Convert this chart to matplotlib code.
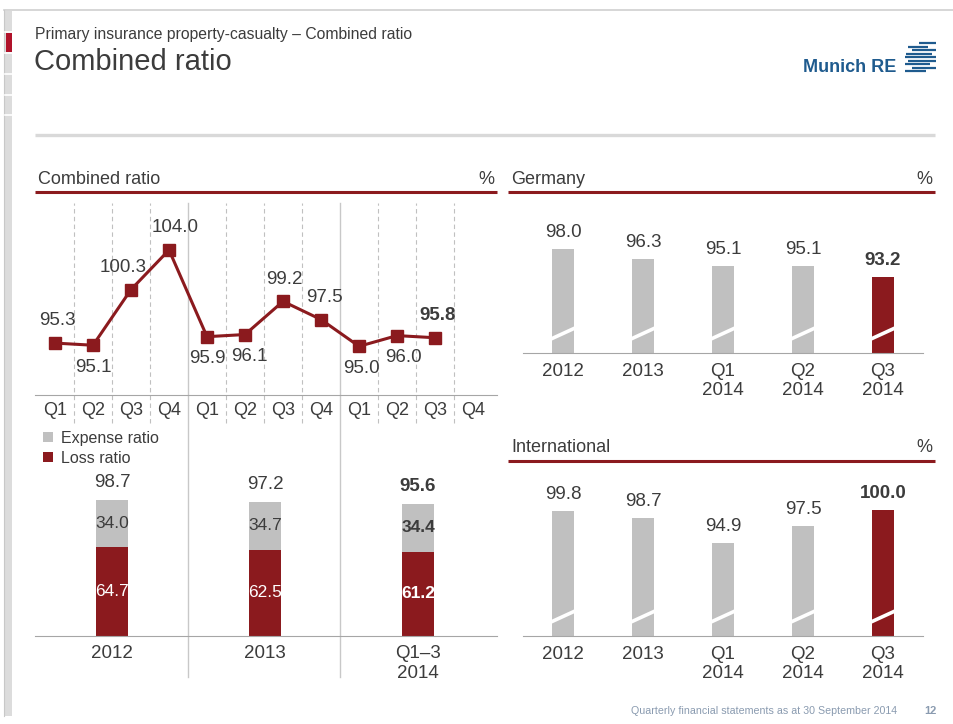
import numpy as np
import matplotlib
matplotlib.use('Agg')
import matplotlib.pyplot as plt

plt.rcParams['font.family'] = ['Liberation Sans', 'DejaVu Sans']

# ---- data ----
quarters = ['Q1', 'Q2', 'Q3', 'Q4'] * 3
combined_q = [95.3, 95.1, 100.3, 104.0, 95.9, 96.1, 99.2, 97.5, 95.0, 96.0, 95.8]
# label placement: +1 above, -1 below, with small x shift in px
label_side = [1, -1, 1, 1, -1, -1, 1, 1, -1, -1, 1]
label_dx = [2, 0, -8, 6, 0, 4, 1, 3, 2, 6, 3]

years = ['2012', '2013', 'Q1–3\n2014']
expense_ratio = [34.0, 34.7, 34.4]
loss_ratio = [64.7, 62.5, 61.2]
total_ratio = [98.7, 97.2, 95.6]

seg_labels = ['2012', '2013', 'Q1\n2014', 'Q2\n2014', 'Q3\n2014']
germany = [98.0, 96.3, 95.1, 95.1, 93.2]
international = [99.8, 98.7, 94.9, 97.5, 100.0]

RED = '#8b1a1e'
GRAY = '#c0c0c0'
TXT = '#3c3c3c'
W, H = 954, 724


def rect(x0, y0, x1, y1):
    # pixel box (top-left origin) -> figure coords
    return [x0 / W, 1 - y1 / H, (x1 - x0) / W, (y1 - y0) / H]


fig = plt.figure(figsize=(W / 100, H / 100), dpi=100)
bg = fig.add_axes([0, 0, 1, 1])
bg.set_xlim(0, W)
bg.set_ylim(H, 0)
bg.axis('off')

# page frame
bg.plot([4, W], [10, 10], color='#d0d0d0', lw=1.2)
bg.plot([4, 4], [10, 716], color='#c8c8c8', lw=0.8)
bg.fill_between([5, 12], 11, 716, color='#dcdcdc', lw=0)
for gy in [32, 53, 74, 95, 115]:
    bg.plot([5, 12], [gy, gy], color='white', lw=1.2)
bg.fill_between([6, 12], 33, 52, color='#b0122a', lw=0)

# titles
bg.text(35, 34, 'Primary insurance property-casualty – Combined ratio', fontsize=11.3,
        color=TXT, va='center', ha='left')
bg.text(34, 62, 'Combined ratio', fontsize=21, color=TXT, va='center', ha='left')
bg.plot([35, 935], [135, 135], color='#d9d9d9', lw=2.4, solid_capstyle='butt')

# logo
BLUE = '#1f5b8e'
bg.text(896, 67, 'Munich RE', fontsize=13, fontweight='bold', color=BLUE,
        ha='right', va='center')
stripes = [(43, 919, 936), (46.5, 908, 928), (50, 912, 936), (53.5, 906, 932),
           (57, 905, 936), (60.5, 908, 936), (64, 905, 930), (67.5, 912, 936),
           (71, 905, 926)]
for sy, sx0, sx1 in stripes:
    bg.plot([sx0, sx1], [sy, sy], color=BLUE, lw=1.6, solid_capstyle='butt')

# section headers
for hx0, hx1, hy, name in [(35, 497, 178, 'Combined ratio'), (508, 935, 178, 'Germany'),
                           (508, 935, 447, 'International')]:
    bg.text(hx0 + 3, hy + 1, name, fontsize=13, color=TXT, va='center', ha='left')
    bg.text(hx1 - 3, hy + 1, '%', fontsize=13, color=TXT, va='center', ha='right')
    bg.plot([hx0, hx1], [hy + 14, hy + 14], color=RED, lw=2.2, solid_capstyle='butt')

# footer
bg.text(897, 711, 'Quarterly financial statements as at 30 September 2014', fontsize=7.7,
        color='#8a9bb0', ha='right', va='center')
bg.text(937, 711, '12', fontsize=8, fontweight='bold', color='#8a9bb0',
        ha='right', va='center')

# ---- quarterly line chart ----
ax1 = fig.add_axes(rect(35, 203, 497, 395))
ax1.set_facecolor('none')
ax1.set_xlim(-0.526, 11.63)
ax1.set_ylim(90.45, 108.39)
xq = np.arange(len(combined_q))
for k in range(11):
    bx = k + 0.5
    if k in (3, 7):
        ax1.axvline(bx, ymin=-1.469, ymax=1, color='#c8c8c8', lw=1, clip_on=False)
    else:
        ax1.axvline(bx, ymin=-0.146, ymax=1, color='#c0c0c0', lw=0.8,
                    ls=(0, (4, 3)), clip_on=False)
ax1.plot(xq, combined_q, color=RED, lw=2.2, marker='s', markersize=8.5, zorder=3)
for i, v in enumerate(combined_q):
    bold = i == len(combined_q) - 1
    ax1.annotate(f'{v:.1f}', (xq[i], v), xytext=(label_dx[i] * 0.72, label_side[i] * 16),
                 textcoords='offset points', ha='center', va='center', fontsize=13.5,
                 color=TXT, fontweight='bold' if bold else 'normal')
ax1.set_xticks(range(12))
ax1.set_xticklabels(quarters, fontsize=13, color=TXT)
ax1.tick_params(axis='x', length=0, pad=5)
ax1.set_yticks([])
for s in ['top', 'left', 'right']:
    ax1.spines[s].set_visible(False)
ax1.spines['bottom'].set_color('#a6a6a6')

# ---- stacked bars ----
ax2 = fig.add_axes(rect(35, 470, 497, 636))
ax2.set_facecolor('none')
ax2.set_xlim(-0.503, 2.516)
ax2.set_ylim(0, 120.5)
xb = np.arange(len(years))
loss_bars = ax2.bar(xb, loss_ratio, width=0.209, color=RED, zorder=2)
exp_bars = ax2.bar(xb, expense_ratio, width=0.209, bottom=loss_ratio, color=GRAY, zorder=2)
for i in range(len(years)):
    bw = 'bold' if i == 2 else 'normal'
    ax2.text(xb[i], loss_ratio[i] / 2, f'{loss_ratio[i]:.1f}', ha='center', va='center',
             color='white', fontsize=12.5, fontweight=bw)
    ax2.text(xb[i], loss_ratio[i] + expense_ratio[i] / 2, f'{expense_ratio[i]:.1f}',
             ha='center', va='center', color=TXT, fontsize=12.5, fontweight=bw)
    ax2.annotate(f'{total_ratio[i]:.1f}', (xb[i], total_ratio[i]), xytext=(0, 12.5),
                 textcoords='offset points', ha='center', va='center', color=TXT,
                 fontsize=13.5, fontweight=bw)
ax2.set_xticks(xb)
ax2.set_xticklabels(years, fontsize=13.5, color=TXT, linespacing=1.25)
ax2.tick_params(axis='x', length=0, pad=6.5)
ax2.set_yticks([])
for s in ['top', 'left', 'right']:
    ax2.spines[s].set_visible(False)
ax2.spines['bottom'].set_color('#a6a6a6')
ax2.legend([exp_bars, loss_bars], ['Expense ratio', 'Loss ratio'], loc='upper left',
           bbox_to_anchor=(43 / W, 1 - 431 / H), bbox_transform=fig.transFigure,
           frameon=False, fontsize=11.5, handlelength=0.6, handleheight=0.6,
           handletextpad=0.55, labelspacing=0.3, borderpad=0, borderaxespad=0,
           labelcolor=TXT)


# ---- segment bar charts with axis break ----
def seg_chart(box, values, ylim):
    ax = fig.add_axes(rect(*box))
    ax.set_facecolor('none')
    ax.set_xlim(-0.5, 4.5)
    ax.set_ylim(*ylim)
    xs = np.arange(len(values))
    cols = [GRAY] * (len(values) - 1) + [RED]
    ax.bar(xs, [v - ylim[0] for v in values], bottom=ylim[0], width=0.275, color=cols, zorder=2)
    upp = (ylim[1] - ylim[0]) / (box[3] - box[1])
    for i, v in enumerate(values):
        last = i == len(values) - 1
        ax.annotate(f'{v:.1f}', (xs[i], v), xytext=(0, 12), textcoords='offset points',
                    ha='center', va='center', fontsize=13.5, color=TXT,
                    fontweight='bold' if last else 'normal')
        ax.plot([xs[i] - 0.15, xs[i] + 0.15], [ylim[0] + 14 * upp, ylim[0] + 25 * upp],
                color='white', lw=2.6, zorder=3)
    ax.set_xticks(xs)
    ax.set_xticklabels(seg_labels, fontsize=13.5, color=TXT, linespacing=1.15)
    ax.tick_params(axis='x', length=0, pad=7.5)
    ax.set_yticks([])
    for s in ['top', 'left', 'right']:
        ax.spines[s].set_visible(False)
    ax.spines['bottom'].set_color('#a6a6a6')
    return ax


seg_chart((523, 200, 923, 353), germany, (80.2, 106.44))
seg_chart((523, 475, 923, 636), international, (80.7, 105.35))

fig.savefig('out.png', dpi=100)
